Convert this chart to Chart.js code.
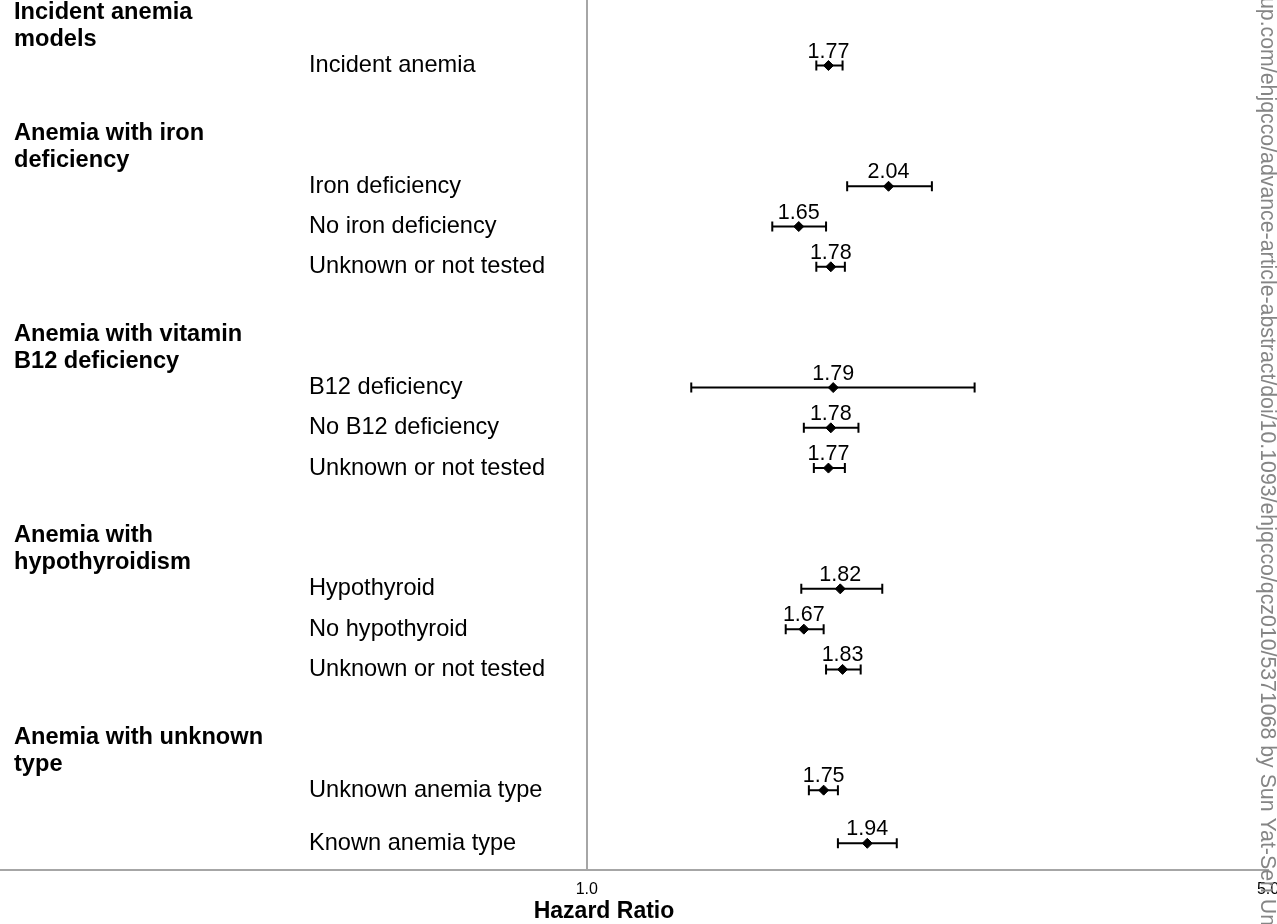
<!DOCTYPE html>
<html lang="en">
<head>
    <meta charset="UTF-8">
    <title>Hazard Ratio forest plot</title>
    <script src="https://cdn.jsdelivr.net/npm/chart.js"></script>
    <style>
        html, body { margin: 0; padding: 0; background: #fff; }
        #wrap { width: 1277px; height: 924px; position: relative; }
    </style>
</head>
<body>
    <div id="wrap"><canvas id="forest"></canvas></div>

    <script>
        // data
        const rowLabels = [
            'Incident anemia',
            'Iron deficiency', 'No iron deficiency', 'Unknown or not tested',
            'B12 deficiency', 'No B12 deficiency', 'Unknown or not tested',
            'Hypothyroid', 'No hypothyroid', 'Unknown or not tested',
            'Unknown anemia type', 'Known anemia type'
        ];
        const hazardRatio = [1.77, 2.04, 1.65, 1.78, 1.79, 1.78, 1.77, 1.82, 1.67, 1.83, 1.75, 1.94];
        const ciLower = [1.72, 1.85, 1.55, 1.72, 1.28, 1.67, 1.71, 1.66, 1.60, 1.76, 1.69, 1.81];
        const ciUpper = [1.83, 2.26, 1.76, 1.84, 2.50, 1.90, 1.84, 2.01, 1.75, 1.91, 1.81, 2.08];

        const groupTitles = [
            ['Incident anemia', 'models'],
            ['Anemia with iron', 'deficiency'],
            ['Anemia with vitamin', 'B12 deficiency'],
            ['Anemia with', 'hypothyroidism'],
            ['Anemia with unknown', 'type']
        ];
        const groupFirstRow = [0, 1, 4, 7, 10];

        // vertical layout of the rows (row slots)
        const rowSlot = [1, 4, 5, 6, 9, 10, 11, 14, 15, 16, 19, 20.32];

        const xTicks = [1, 5];

        const watermark = 'up.com/ehjqcco/advance-article-abstract/doi/10.1093/ehjqcco/qcz010/5371068 by Sun Yat-Sen Un';

        Chart.defaults.font.family = "'Liberation Sans', Arial, sans-serif";
        Chart.defaults.color = '#000';

        const forestPlugin = {
            id: 'forest',
            afterDatasetsDraw(chart) {
                const { ctx } = chart;
                const xs = chart.scales.x;
                const ys = chart.scales.y;
                ctx.save();

                // confidence intervals
                ctx.strokeStyle = '#000';
                ctx.lineWidth = 2;
                hazardRatio.forEach((v, i) => {
                    const y = ys.getPixelForValue(rowSlot[i]);
                    const x1 = xs.getPixelForValue(ciLower[i]);
                    const x2 = xs.getPixelForValue(ciUpper[i]);
                    ctx.beginPath();
                    ctx.moveTo(x1, y); ctx.lineTo(x2, y);
                    ctx.moveTo(x1, y - 5); ctx.lineTo(x1, y + 5);
                    ctx.moveTo(x2, y - 5); ctx.lineTo(x2, y + 5);
                    ctx.stroke();
                });

                // value labels over the points
                ctx.fillStyle = '#000';
                ctx.font = "21.5px 'Liberation Sans', Arial, sans-serif";
                ctx.textAlign = 'center';
                ctx.textBaseline = 'alphabetic';
                hazardRatio.forEach((v, i) => {
                    const y = ys.getPixelForValue(rowSlot[i]);
                    ctx.fillText(v.toFixed(2), xs.getPixelForValue(v), y - 8);
                });

                // row labels
                ctx.textAlign = 'left';
                ctx.textBaseline = 'middle';
                ctx.font = "23.6px 'Liberation Sans', Arial, sans-serif";
                rowLabels.forEach((t, i) => {
                    ctx.fillText(t, 309, ys.getPixelForValue(rowSlot[i]));
                });

                // group headers
                ctx.font = "bold 23.6px 'Liberation Sans', Arial, sans-serif";
                groupTitles.forEach((lines, g) => {
                    const y = ys.getPixelForValue(rowSlot[groupFirstRow[g]]);
                    ctx.fillText(lines[0], 14, y - 53);
                    ctx.fillText(lines[1], 14, y - 26);
                });

                // axis title
                ctx.textAlign = 'center';
                ctx.font = "bold 23px 'Liberation Sans', Arial, sans-serif";
                ctx.fillText('Hazard Ratio', 604, 912);

                // download stamp along the right edge
                ctx.translate(1267, -3);
                ctx.rotate(Math.PI / 2);
                ctx.textAlign = 'left';
                ctx.fillStyle = '#858585';
                ctx.font = "21.3px 'Liberation Sans', Arial, sans-serif";
                ctx.fillText(watermark, 0, 0);
                ctx.restore();
            }
        };

        new Chart(document.getElementById('forest'), {
            type: 'scatter',
            data: {
                datasets: [{
                    data: hazardRatio.map((v, i) => ({ x: v, y: rowSlot[i] })),
                    pointStyle: 'rectRot',
                    pointRadius: 5,
                    backgroundColor: '#000',
                    borderColor: '#000',
                    borderWidth: 1
                }]
            },
            options: {
                responsive: true,
                maintainAspectRatio: false,
                animation: false,
                layout: {
                    autoPadding: false,
                    padding: { left: 0, right: 9, top: 0, bottom: 14.8 }
                },
                plugins: {
                    legend: { display: false },
                    tooltip: { enabled: false }
                },
                scales: {
                    x: {
                        type: 'logarithmic',
                        min: 0.25,
                        max: 5,
                        afterBuildTicks: (axis) => {
                            axis.ticks = xTicks.map(v => ({ value: v }));
                        },
                        // let the 5.0 label run off the edge like the original
                        afterFit: (axis) => {
                            axis.paddingLeft = 0;
                            axis.paddingRight = 0;
                        },
                        ticks: {
                            padding: 10,
                            maxRotation: 0,
                            autoSkip: false,
                            font: { size: 16 },
                            color: '#000',
                            callback: (v) => Number(v).toFixed(1)
                        },
                        grid: {
                            drawTicks: false,
                            lineWidth: 2,
                            color: (c) => (c.tick && c.tick.value === 1) ? '#a6a6a6' : 'rgba(0,0,0,0)'
                        },
                        border: { display: true, color: '#a6a6a6', width: 2 }
                    },
                    y: {
                        type: 'linear',
                        display: false,
                        reverse: true,
                        min: -0.627,
                        max: 20.983
                    }
                }
            },
            plugins: [forestPlugin]
        });
    </script>
</body>
</html>
